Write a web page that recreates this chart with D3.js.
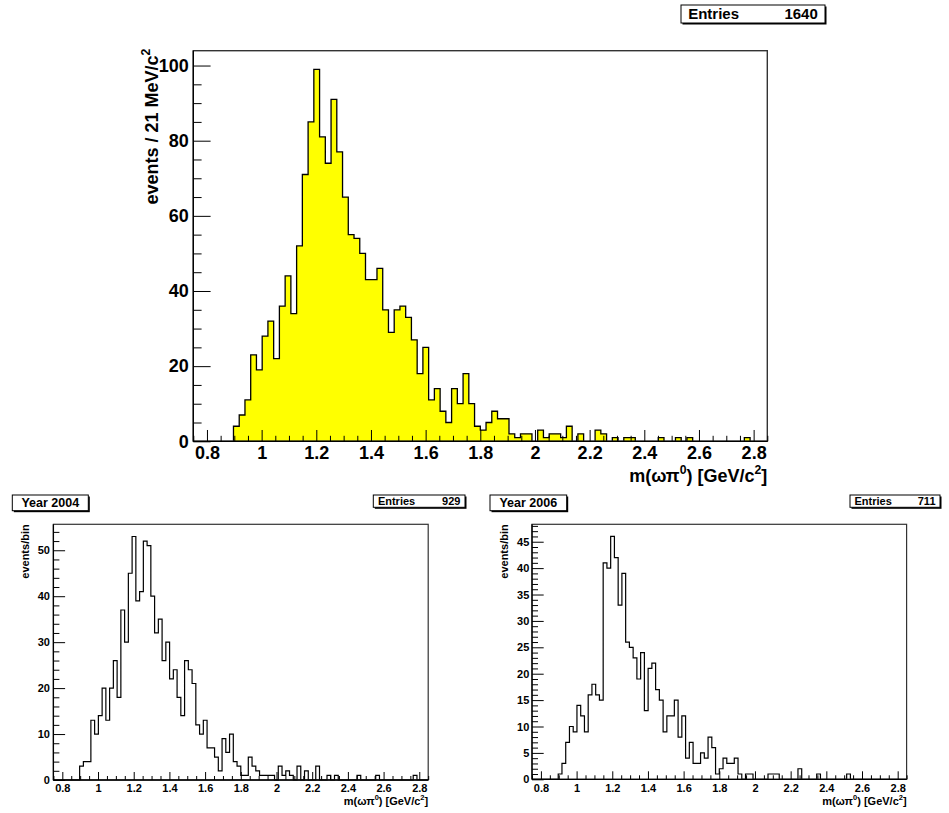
<!DOCTYPE html>
<html><head><meta charset="utf-8">
<script src="https://cdn.jsdelivr.net/npm/d3@7"></script>
<style>
body{margin:0;background:#fff}
svg{display:block}
text{font-family:"Liberation Sans",Arial,Helvetica,sans-serif;font-weight:bold;fill:#000}
</style>
</head><body>
<svg id="c" width="949" height="813"></svg>
<script>
// ---------------- data ----------------
const binLow = 0.75;      // GeV/c^2, low edge of first bin
const binWidth = 0.021;   // 21 MeV/c^2
const countsAll = [0,0,0,0,0,0,0,4,7,11, 23,19,28,32,22,36,44,34,52,71, 85,99,81,74,91,77,65,55,54,50, 43,43,46,35,29,35,36,33,27,18, 25,11,14,8,5,14,10,18,10,4, 3,5,8,6,6,2,1,2,2,0, 3,1,2,2,1,4,0,2,0,0, 3,2,0,1,0,1,1,0,0,0, 0,1,0,0,1,0,1,0,0,0, 0,0,0,0,0,0,1,0,0,0];
const counts2004 = [0,0,0,0,0,0,0,3,4,4, 13,10,14,20,13,20,26,18,37,30, 45,53,39,41,52,51,40,32,35,26, 30,22,24,18,14,26,24,21,12,10, 13,7,7,5,2,9,6,10,4,3, 1,1,5,3,2,1,1,1,1,0, 3,1,2,1,0,3,0,2,0,0, 3,0,0,1,0,1,0,0,0,0, 0,1,0,0,0,0,1,0,0,0, 0,0,0,0,0,0,1,0,0,0];
const counts2006 = [0,0,0,0,0,0,0,1,3,7, 10,9,14,12,9,16,18,16,15,41, 40,46,42,33,39,26,25,23,19,24, 13,21,22,17,15,9,12,12,15,8, 12,4,7,3,3,5,4,8,6,1, 2,4,3,3,4,1,0,1,1,0, 0,0,0,1,1,1,0,0,0,0, 0,2,0,0,0,0,1,0,0,0, 0,0,0,0,1,0,0,0,0,0, 0,0,0,0,0,0,0,0,0,0];
const entriesAll = 1640, entries2004 = 929, entries2006 = 711;
const xTickValues = [0.8,1,1.2,1.4,1.6,1.8,2,2.2,2.4,2.6,2.8];
const xTickLabels = ["0.8","1","1.2","1.4","1.6","1.8","2","2.2","2.4","2.6","2.8"];
const yTicksMain = [0,20,40,60,80,100];
const yTicks2004 = [0,10,20,30,40,50];
const yTicks2006 = [0,5,10,15,20,25,30,35,40,45];
const titles = ["Year 2004","Year 2006"];

// ---------------- drawing ----------------
const svg = d3.select("#c");

function drawPad(p){
  const xMax = binLow + p.counts.length*binWidth;
  const x = d3.scaleLinear().domain([binLow, xMax]).range([p.x0, p.x1]);
  const ymax = 1.05*d3.max(p.counts);
  const y = d3.scaleLinear().domain([0, ymax]).range([p.y0, p.y1]);
  const g = svg.append("g");

  // histogram step outline
  const pts = [[binLow, 0]];
  p.counts.forEach((c,i)=>{
    const lo = binLow + i*binWidth, hi = lo + binWidth;
    pts.push([lo, c]); pts.push([hi, c]);
  });
  pts.push([xMax, 0]);
  const line = d3.line().x(d=>x(d[0])).y(d=>y(d[1]));
  g.append("path").attr("d", line(pts) + (p.fill ? "Z" : ""))
    .attr("fill", p.fill || "none")
    .attr("stroke", "#000").attr("stroke-width", p.lw).attr("stroke-linejoin","miter");

  // frame
  g.append("rect").attr("x", p.x0).attr("y", p.y1).attr("width", p.x1-p.x0).attr("height", p.y0-p.y1)
    .attr("fill","none").attr("stroke","#333").attr("stroke-width", p.frameW);

  // x axis major
  const xMinor = d3.range(0.75, 2.851, 0.05).filter(v => !xTickValues.some(t=>Math.abs(t-v)<1e-6));
  const ax = g.append("g").attr("transform", `translate(0,${p.y0})`)
    .call(d3.axisBottom(x).tickValues(xTickValues).tickFormat((d,i)=>xTickLabels[i])
      .tickSizeInner(-p.xMaj).tickSizeOuter(0).tickPadding(p.xPad));
  ax.select(".domain").remove();
  ax.selectAll("text").attr("font-size", p.fs).attr("font-family", null);
  ax.selectAll("line").attr("stroke","#000").attr("stroke-width",1);
  const axm = g.append("g").attr("transform", `translate(0,${p.y0})`)
    .call(d3.axisBottom(x).tickValues(xMinor).tickFormat("").tickSizeInner(-p.xMin).tickSizeOuter(0));
  axm.select(".domain").remove();
  axm.selectAll("line").attr("stroke","#000").attr("stroke-width",1);

  // y axis
  const ay = g.append("g").attr("transform", `translate(${p.x0},0)`)
    .call(d3.axisLeft(y).tickValues(p.yTicks).tickFormat(d3.format("d"))
      .tickSizeInner(-p.yMaj).tickSizeOuter(0).tickPadding(p.yPad));
  ay.select(".domain").remove();
  ay.selectAll("text").attr("font-size", p.fs).attr("font-family", null);
  ay.selectAll("line").attr("stroke","#000").attr("stroke-width",1);
  const yMinor = d3.range(0, ymax, p.yMinStep).filter(v => !p.yTicks.includes(v));
  const aym = g.append("g").attr("transform", `translate(${p.x0},0)`)
    .call(d3.axisLeft(y).tickValues(yMinor).tickFormat("").tickSizeInner(-p.yMin).tickSizeOuter(0));
  aym.select(".domain").remove();
  aym.selectAll("line").attr("stroke","#000").attr("stroke-width",1);

  // axis lines
  g.append("line").attr("x1",p.x0).attr("x2",p.x1).attr("y1",p.y0).attr("y2",p.y0).attr("stroke","#000").attr("stroke-width",1.3);
  g.append("line").attr("x1",p.x0).attr("x2",p.x0).attr("y1",p.y0).attr("y2",p.y1).attr("stroke","#000").attr("stroke-width",1.3);

  // x title: m(ωπ0) [GeV/c2]
  const fs = p.tfs;
  const xt = g.append("text").attr("x", p.x1).attr("y", p.xTitleY).attr("text-anchor","end").attr("font-size", fs);
  xt.append("tspan").text("m(ωπ");
  xt.append("tspan").attr("dy", -0.42*fs).attr("font-size", 0.68*fs).text("0");
  xt.append("tspan").attr("dy", 0.42*fs).text(") [GeV/c");
  xt.append("tspan").attr("dy", -0.42*fs).attr("font-size", 0.68*fs).text("2");
  xt.append("tspan").attr("dy", 0.42*fs).text("]");

  // y title
  const yt = g.append("text").attr("transform", `translate(${p.yTitleX},${p.y1 - p.yTitleOff}) rotate(-90)`)
    .attr("text-anchor","end").attr("font-size", p.yfs);
  if (p.mainTitle){
    yt.append("tspan").text("events / 21 MeV/c");
    yt.append("tspan").attr("dy", -0.42*p.yfs).attr("font-size", 0.68*p.yfs).text("2");
  } else {
    yt.text("events/bin");
  }
  return {x,y};
}

function box(x0,y0,x1,y1){
  svg.append("rect").attr("x",x0+1.5).attr("y",y0+1.5).attr("width",x1-x0).attr("height",y1-y0).attr("fill","#000");
  svg.append("rect").attr("x",x0).attr("y",y0).attr("width",x1-x0).attr("height",y1-y0)
    .attr("fill","#fff").attr("stroke","#000").attr("stroke-width",1);
}
function statBox(x0,y0,x1,y1,fs,val){
  box(x0,y0,x1,y1);
  const by = (y0+y1)/2 + fs*0.36;
  svg.append("text").attr("x", x0+ (x1-x0)*0.05).attr("y", by).attr("font-size", fs).text("Entries");
  svg.append("text").attr("x", x1-(x1-x0)*0.05).attr("y", by).attr("text-anchor","end").attr("font-size", fs).text(val);
}

// main pad
drawPad({counts: countsAll, x0:193.3, x1:767.3, y0:441.3, y1:50.7, fill:"#ffff00", lw:1.3, frameW:1.4,
  yTicks: yTicksMain, yMinStep:5, xMaj:11.3, xMin:5.5, yMaj:17.3, yMin:8.3, xPad:4.6, yPad:4.6, fs:18,
  tfs:18, xTitleY:482, yTitleX:158, yTitleOff:2, yfs:18, mainTitle:true});
statBox(681, 5, 825, 23, 15, entriesAll);

// 2004 pad
drawPad({counts: counts2004, x0:53.4, x1:428.2, y0:780, y1:524.3, fill:null, lw:1.2, frameW:1.2,
  yTicks: yTicks2004, yMinStep:2, xMaj:8, xMin:4, yMaj:11.7, yMin:6, xPad:4.5, yPad:3.5, fs:11,
  tfs:11, xTitleY:805, yTitleX:28.5, yTitleOff:0, yfs:11, mainTitle:false});
statBox(373.3, 495, 465, 507.3, 11, entries2004);
box(12.3, 495, 88.3, 510.7);
svg.append("text").attr("x", 50.3).attr("y", 507.2).attr("text-anchor","middle").attr("font-size", 12.5).text(titles[0]);

// 2006 pad
drawPad({counts: counts2006, x0:532, x1:906.6, y0:779.3, y1:524.3, fill:null, lw:1.2, frameW:1.2,
  yTicks: yTicks2006, yMinStep:1, xMaj:8, xMin:4, yMaj:11.7, yMin:6, xPad:4.5, yPad:2.7, fs:11,
  tfs:11, xTitleY:805, yTitleX:507.5, yTitleOff:0, yfs:11, mainTitle:false});
statBox(850, 495, 940, 507.3, 11, entries2006);
box(490, 495, 566.7, 510.7);
svg.append("text").attr("x", 528.3).attr("y", 507.2).attr("text-anchor","middle").attr("font-size", 12.5).text(titles[1]);
</script>
</body></html>
